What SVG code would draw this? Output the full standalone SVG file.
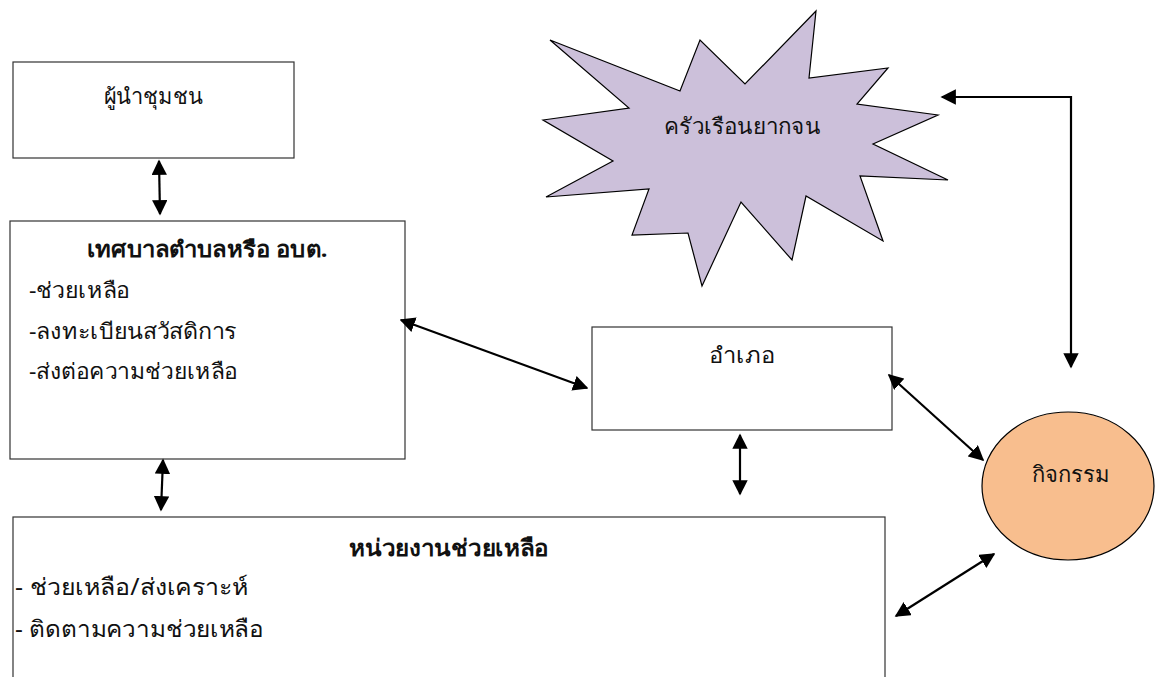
<svg xmlns="http://www.w3.org/2000/svg" width="1155" height="677" viewBox="0 0 1155 677">
<style>
.box{fill:#fff;stroke:#333;stroke-width:1.2}
.t{font-family:"Noto Sans","DejaVu Sans",sans-serif;font-size:22px;fill:#111}
.b{font-weight:bold}
.n{font-family:"Noto Sans","DejaVu Sans",sans-serif;font-size:23px;fill:#111}
.c{fill:none;stroke:#000;stroke-width:2.2;marker-start:url(#ah);marker-end:url(#ah)}
</style>
<defs>
<marker id="ah" viewBox="0 0 10 10" refX="9" refY="5" markerWidth="7" markerHeight="7" orient="auto-start-reverse" markerUnits="strokeWidth">
<path d="M0,0 L10,5 L0,10 Z" fill="#000"/>
</marker>
</defs>
<rect width="1155" height="677" fill="#fff"/>
<g id="poor-household">
<polygon points="550,40 680,91 700,40 745,84 816,11 809,78 888,68 857,104 938,115 873,144 948,180 860,176 883,241 806,196 792,260 741,202 702,286 688,233 632,235 649,189 546,197 613,161 543,120 629,108" fill="#ccc0da" stroke="#000" stroke-width="1.2"/>
<text class="t" x="742" y="134" text-anchor="middle" textLength="156" lengthAdjust="spacingAndGlyphs">ครัวเรือนยากจน</text>
</g>
<g id="community-leader">
<rect class="box" x="13" y="62" width="281" height="96"/>
<text class="t" x="153" y="104" text-anchor="middle" textLength="99" lengthAdjust="spacingAndGlyphs">ผู้นำชุมชน</text>
</g>
<g id="municipality">
<rect class="box" x="10" y="221" width="395" height="238"/>
<text class="t b" x="207" y="257" text-anchor="middle" textLength="241" lengthAdjust="spacingAndGlyphs">เทศบาลตำบลหรือ อบต.</text>
<text class="t" x="29" y="298" textLength="101" lengthAdjust="spacingAndGlyphs">-ช่วยเหลือ</text>
<text class="t" x="29" y="339" textLength="208" lengthAdjust="spacingAndGlyphs">-ลงทะเบียนสวัสดิการ</text>
<text class="t" x="29" y="379" textLength="209" lengthAdjust="spacingAndGlyphs">-ส่งต่อความช่วยเหลือ</text>
</g>
<g id="district">
<rect class="box" x="592" y="327" width="300" height="103"/>
<text class="t" x="742" y="363" text-anchor="middle" textLength="66" lengthAdjust="spacingAndGlyphs">อำเภอ</text>
</g>
<g id="activity">
<ellipse cx="1068" cy="486" rx="86" ry="74" fill="#f8be8e" stroke="#000" stroke-width="1.2"/>
<text class="t" x="1071" y="482" text-anchor="middle" textLength="78" lengthAdjust="spacingAndGlyphs">กิจกรรม</text>
</g>
<g id="relief-agency">
<rect class="box" x="13" y="517" width="872" height="170"/>
<text class="n b" x="449" y="556" text-anchor="middle" textLength="200" lengthAdjust="spacingAndGlyphs">หน่วยงานช่วยเหลือ</text>
<text class="n" x="15" y="595" textLength="233" lengthAdjust="spacingAndGlyphs">- ช่วยเหลือ/ส่งเคราะห์</text>
<text class="n" x="15" y="637" textLength="249" lengthAdjust="spacingAndGlyphs">- ติดตามความช่วยเหลือ</text>
</g>
<g id="connectors">
<path class="c" d="M159,161 L160,214"/>
<path class="c" d="M163,460 L161,510"/>
<path class="c" d="M401,320 L587,388"/>
<path class="c" d="M740,435 L740,494"/>
<path class="c" d="M889,375 L983,460"/>
<path class="c" d="M942,97 L1071,97 L1071,367"/>
<path class="c" d="M896,616 L994,554"/>
</g>
</svg>
